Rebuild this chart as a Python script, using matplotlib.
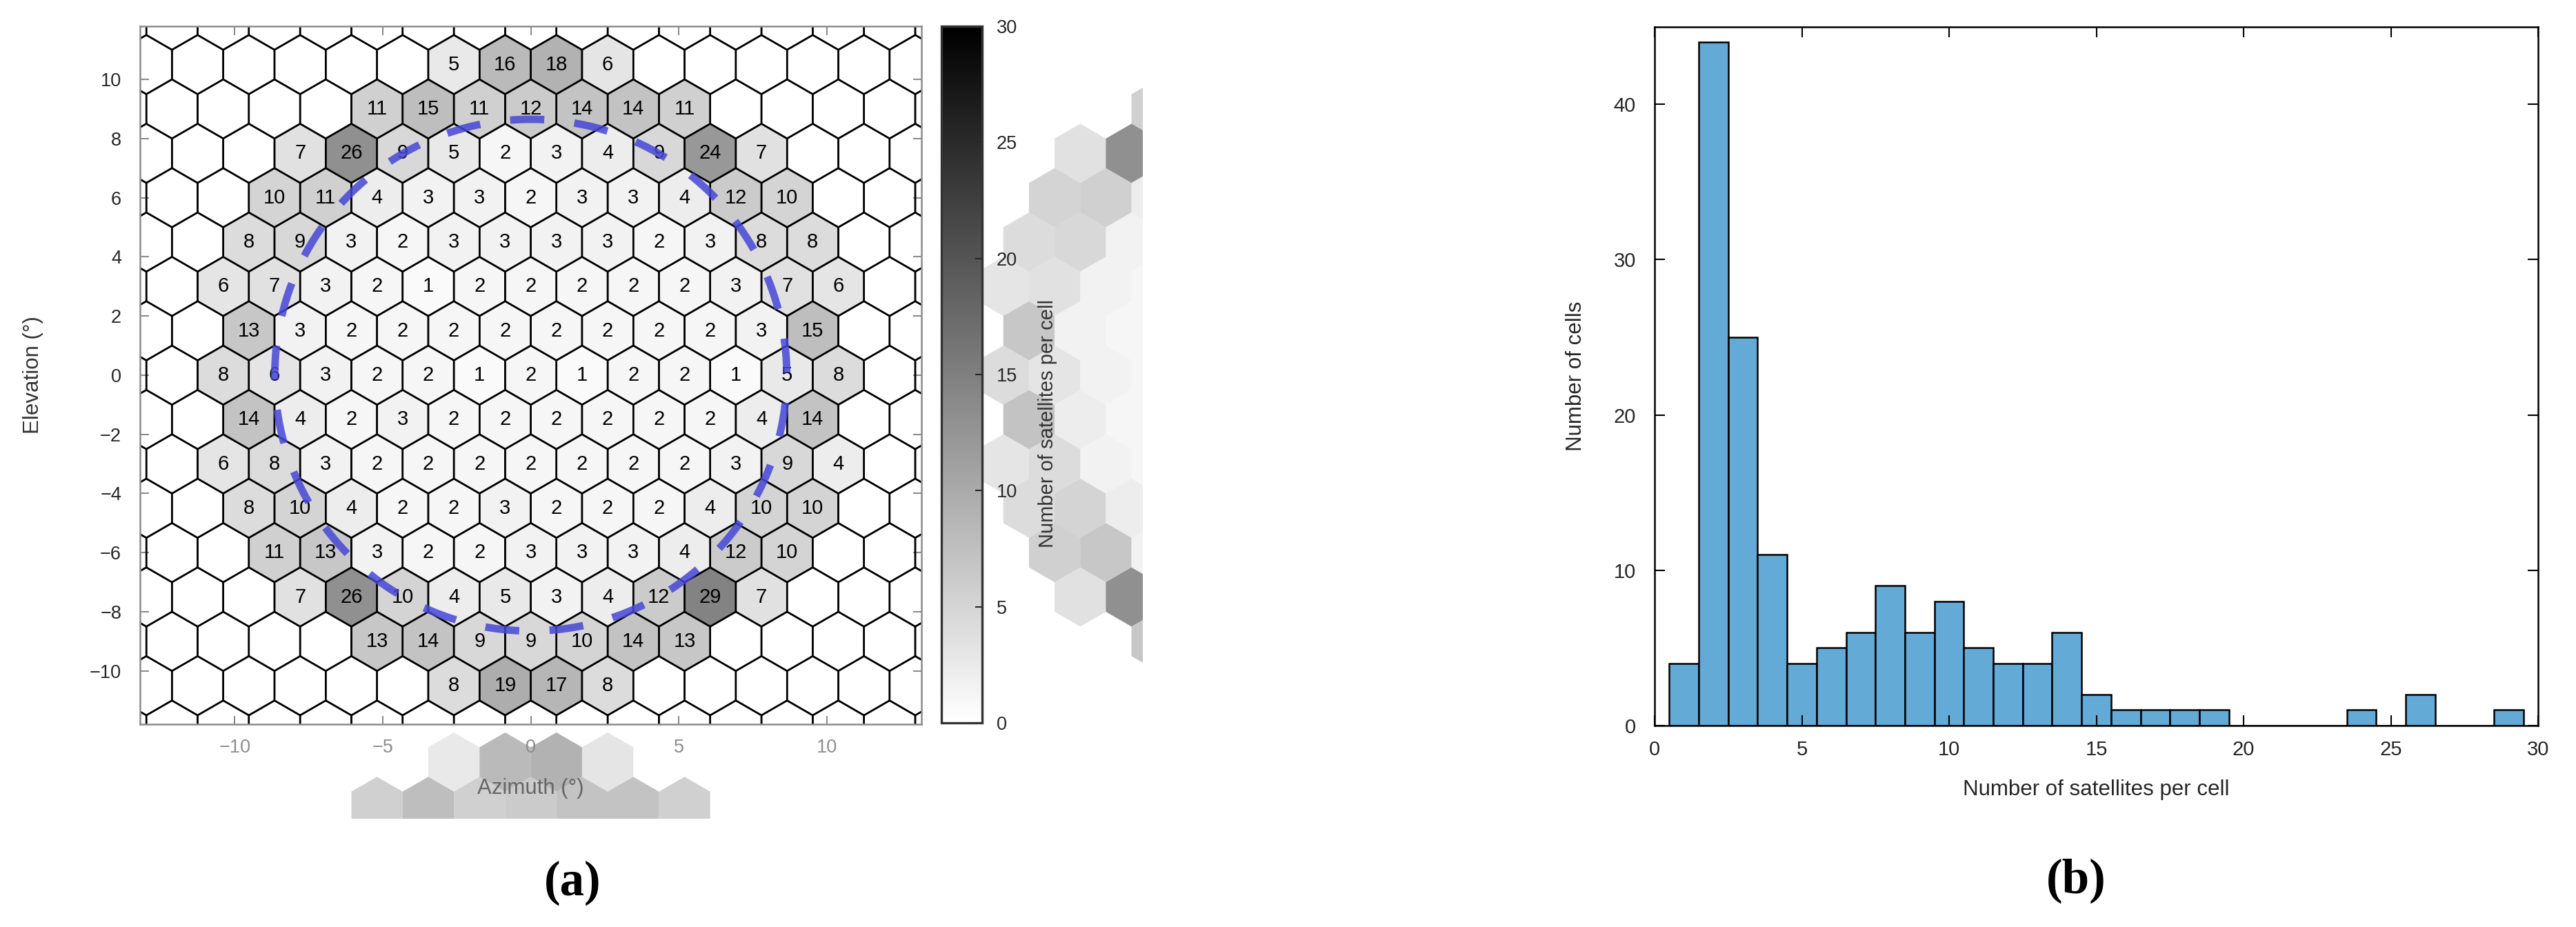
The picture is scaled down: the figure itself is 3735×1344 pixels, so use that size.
"""hexagonal sky map of satellites per cell and histogram of the counts"""
import numpy as np
import matplotlib
matplotlib.use("Agg")
import matplotlib.pyplot as plt
from matplotlib.collections import PolyCollection
from matplotlib.colors import Normalize
from matplotlib.cm import ScalarMappable
from matplotlib.transforms import Bbox, TransformedBbox

plt.rcParams['font.family'] = ['Liberation Sans', 'DejaVu Sans']

# elevation of each row of hexagons (deg), top row first
row_elev = [10.5, 9.0, 7.5, 6.0, 4.5, 3.0, 1.5, 0.0, -1.5, -3.0, -4.5, -6.0, -7.5, -9.0, -10.5]
# satellites per cell, west to east; every row is centred on azimuth 0
row_counts = [
    [5, 16, 18, 6],
    [11, 15, 11, 12, 14, 14, 11],
    [7, 26, 9, 5, 2, 3, 4, 9, 24, 7],
    [10, 11, 4, 3, 3, 2, 3, 3, 4, 12, 10],
    [8, 9, 3, 2, 3, 3, 3, 3, 2, 3, 8, 8],
    [6, 7, 3, 2, 1, 2, 2, 2, 2, 2, 3, 7, 6],
    [13, 3, 2, 2, 2, 2, 2, 2, 2, 2, 3, 15],
    [8, 6, 3, 2, 2, 1, 2, 1, 2, 2, 1, 5, 8],
    [14, 4, 2, 3, 2, 2, 2, 2, 2, 2, 4, 14],
    [6, 8, 3, 2, 2, 2, 2, 2, 2, 2, 3, 9, 4],
    [8, 10, 4, 2, 2, 3, 2, 2, 2, 4, 10, 10],
    [11, 13, 3, 2, 2, 3, 3, 3, 4, 12, 10],
    [7, 26, 10, 4, 5, 3, 4, 12, 29, 7],
    [13, 14, 9, 9, 10, 14, 13],
    [8, 19, 17, 8],
]
HEX_R = 1.0        # hexagon circumradius (deg)
FOV_R = 8.65       # dashed field-of-view circle (deg)
N_DASH = 25

# histogram (b): number of cells per count, bins of width 1 centred on 1..29
hist_centres = list(range(1, 30))
hist_cells = [4, 44, 25, 11, 4, 5, 6, 9, 6, 8, 5, 4, 4, 6, 2,
              1, 1, 1, 1, 0, 0, 0, 0, 1, 0, 2, 0, 0, 1]

ang = np.deg2rad(np.arange(90, 450, 60))
hex_dx = HEX_R * np.cos(ang)
hex_dy = HEX_R * np.sin(ang)
W = np.sqrt(3) * HEX_R


def hexagon(x, y):
  return np.column_stack([x + hex_dx, y + hex_dy])


cx, cy, cv = [], [], []
for y, vals in zip(row_elev, row_counts):
  xs = (np.arange(len(vals)) - (len(vals) - 1) / 2) * W
  for x, v in zip(xs, vals):
    cx.append(x)
    cy.append(y)
    cv.append(v)
cv = np.array(cv)

grid = []
for k in range(-9, 10):
  off = 0.5 if k % 2 else 0.0
  for n in range(-10, 10):
    grid.append(hexagon((n + off) * W, 1.5 * k * HEX_R))

norm = Normalize(0, 30)
fig = plt.figure(figsize=(12.45, 4.48), dpi=300)

# ---- (a) hex map
ax = fig.add_axes([0.0544, 0.2188, 0.3033, 0.7530])
cells = PolyCollection([hexagon(x, y) for x, y in zip(cx, cy)], array=cv,
                       cmap='gray_r', norm=norm, alpha=0.5,
                       edgecolors='none', zorder=1)
ax.add_collection(cells)
ax.add_collection(PolyCollection(grid, facecolors='none', edgecolors='black',
                                 linewidths=0.6, zorder=2))
for x, y, v in zip(cx, cy, cv):
  ax.text(x, y, str(v), ha='center', va='center', fontsize=7,
          color='black', zorder=3)

# dashed circle
theta0 = np.deg2rad(90.8)
half = np.pi / N_DASH * 0.53
for i in range(N_DASH):
  c = theta0 + 2 * np.pi * i / N_DASH
  t = np.linspace(c - half, c + half, 12)
  ax.plot(FOV_R * np.cos(t), FOV_R * np.sin(t), color='#4646d6', lw=2.6,
          alpha=0.85, solid_capstyle='butt', zorder=4)

ax.set_xlim(-13.2, 13.2)
ax.set_ylim(-11.8, 11.8)
ax.set_xticks([-10, -5, 0, 5, 10])
ax.set_yticks(range(-10, 11, 2))
ax.tick_params(direction='in', top=True, right=True, length=3, width=0.5,
               color='#8c8c8c', labelsize=6.5)
ax.tick_params(axis='x', labelcolor='#8c8c8c', pad=5)
ax.tick_params(axis='y', labelcolor='#262626', pad=6.5)
for s in ax.spines.values():
  s.set_color('#8c8c8c')
  s.set_linewidth(0.6)
ax.set_xlabel('Azimuth (°)', fontsize=7.5, color='#666666')
ax.xaxis.set_label_coords(0.5, -0.077)
ax.set_ylabel('Elevation (°)', fontsize=7.5, color='#333333')
ax.yaxis.set_label_coords(-0.124, 0.5)

# faint copies of the map left over in the exported figure
for dx, dy, box in [(26.36, 0.0, (0.3813, 0.2835, 0.4436, 0.9055)),
                    (0.0, -23.58, (0.10, 0.1168, 0.30, 0.2150))]:
  g = PolyCollection([hexagon(x + dx, y + dy) for x, y in zip(cx, cy)],
                     array=cv, cmap='gray_r', norm=norm, alpha=0.5,
                     edgecolors='none', zorder=0.8)
  ax.add_collection(g, autolim=False)
  g.set_clip_box(TransformedBbox(Bbox.from_extents(*box), fig.transFigure))

# colorbar
cax = fig.add_axes([0.3655, 0.2202, 0.0158, 0.7515])
cb = fig.colorbar(ScalarMappable(norm=norm, cmap='gray_r'), cax=cax,
                  ticks=range(0, 31, 5))
cb.outline.set_edgecolor('#333333')
cb.outline.set_linewidth(0.8)
cax.tick_params(direction='in', length=2.5, width=0.5, labelsize=6.5, pad=5,
                colors='#262626')
cb.set_label('Number of satellites per cell', fontsize=7, color='#333333')
cax.yaxis.set_label_coords(2.37, 0.43)

# ---- (b) histogram
hx = fig.add_axes([0.6423, 0.2173, 0.343, 0.754])
hx.bar(hist_centres, hist_cells, width=1.0, color='#64aad7',
       edgecolor='black', linewidth=0.6)
hx.set_xlim(0, 30)
hx.set_ylim(0, 45)
hx.set_xticks(range(0, 31, 5))
hx.set_yticks(range(0, 41, 10))
hx.tick_params(direction='in', top=True, right=True, length=3.5, width=0.5,
               labelsize=7, labelcolor='#262626')
hx.tick_params(axis='x', pad=5)
hx.tick_params(axis='y', pad=6.5)
for s in hx.spines.values():
  s.set_linewidth(0.6)
hx.set_xlabel('Number of satellites per cell', fontsize=7.5, color='#262626')
hx.xaxis.set_label_coords(0.5, -0.077)
hx.set_ylabel('Number of cells', fontsize=7.5, color='#262626')
hx.yaxis.set_label_coords(-0.077, 0.5)

fig.text(0.2222, 0.0476, '(a)', ha='center', va='center', fontsize=17,
         fontweight='bold', family='Liberation Serif')
fig.text(0.806, 0.05, '(b)', ha='center', va='center', fontsize=17,
         fontweight='bold', family='Liberation Serif')

fig.savefig('out.png', dpi=300)
